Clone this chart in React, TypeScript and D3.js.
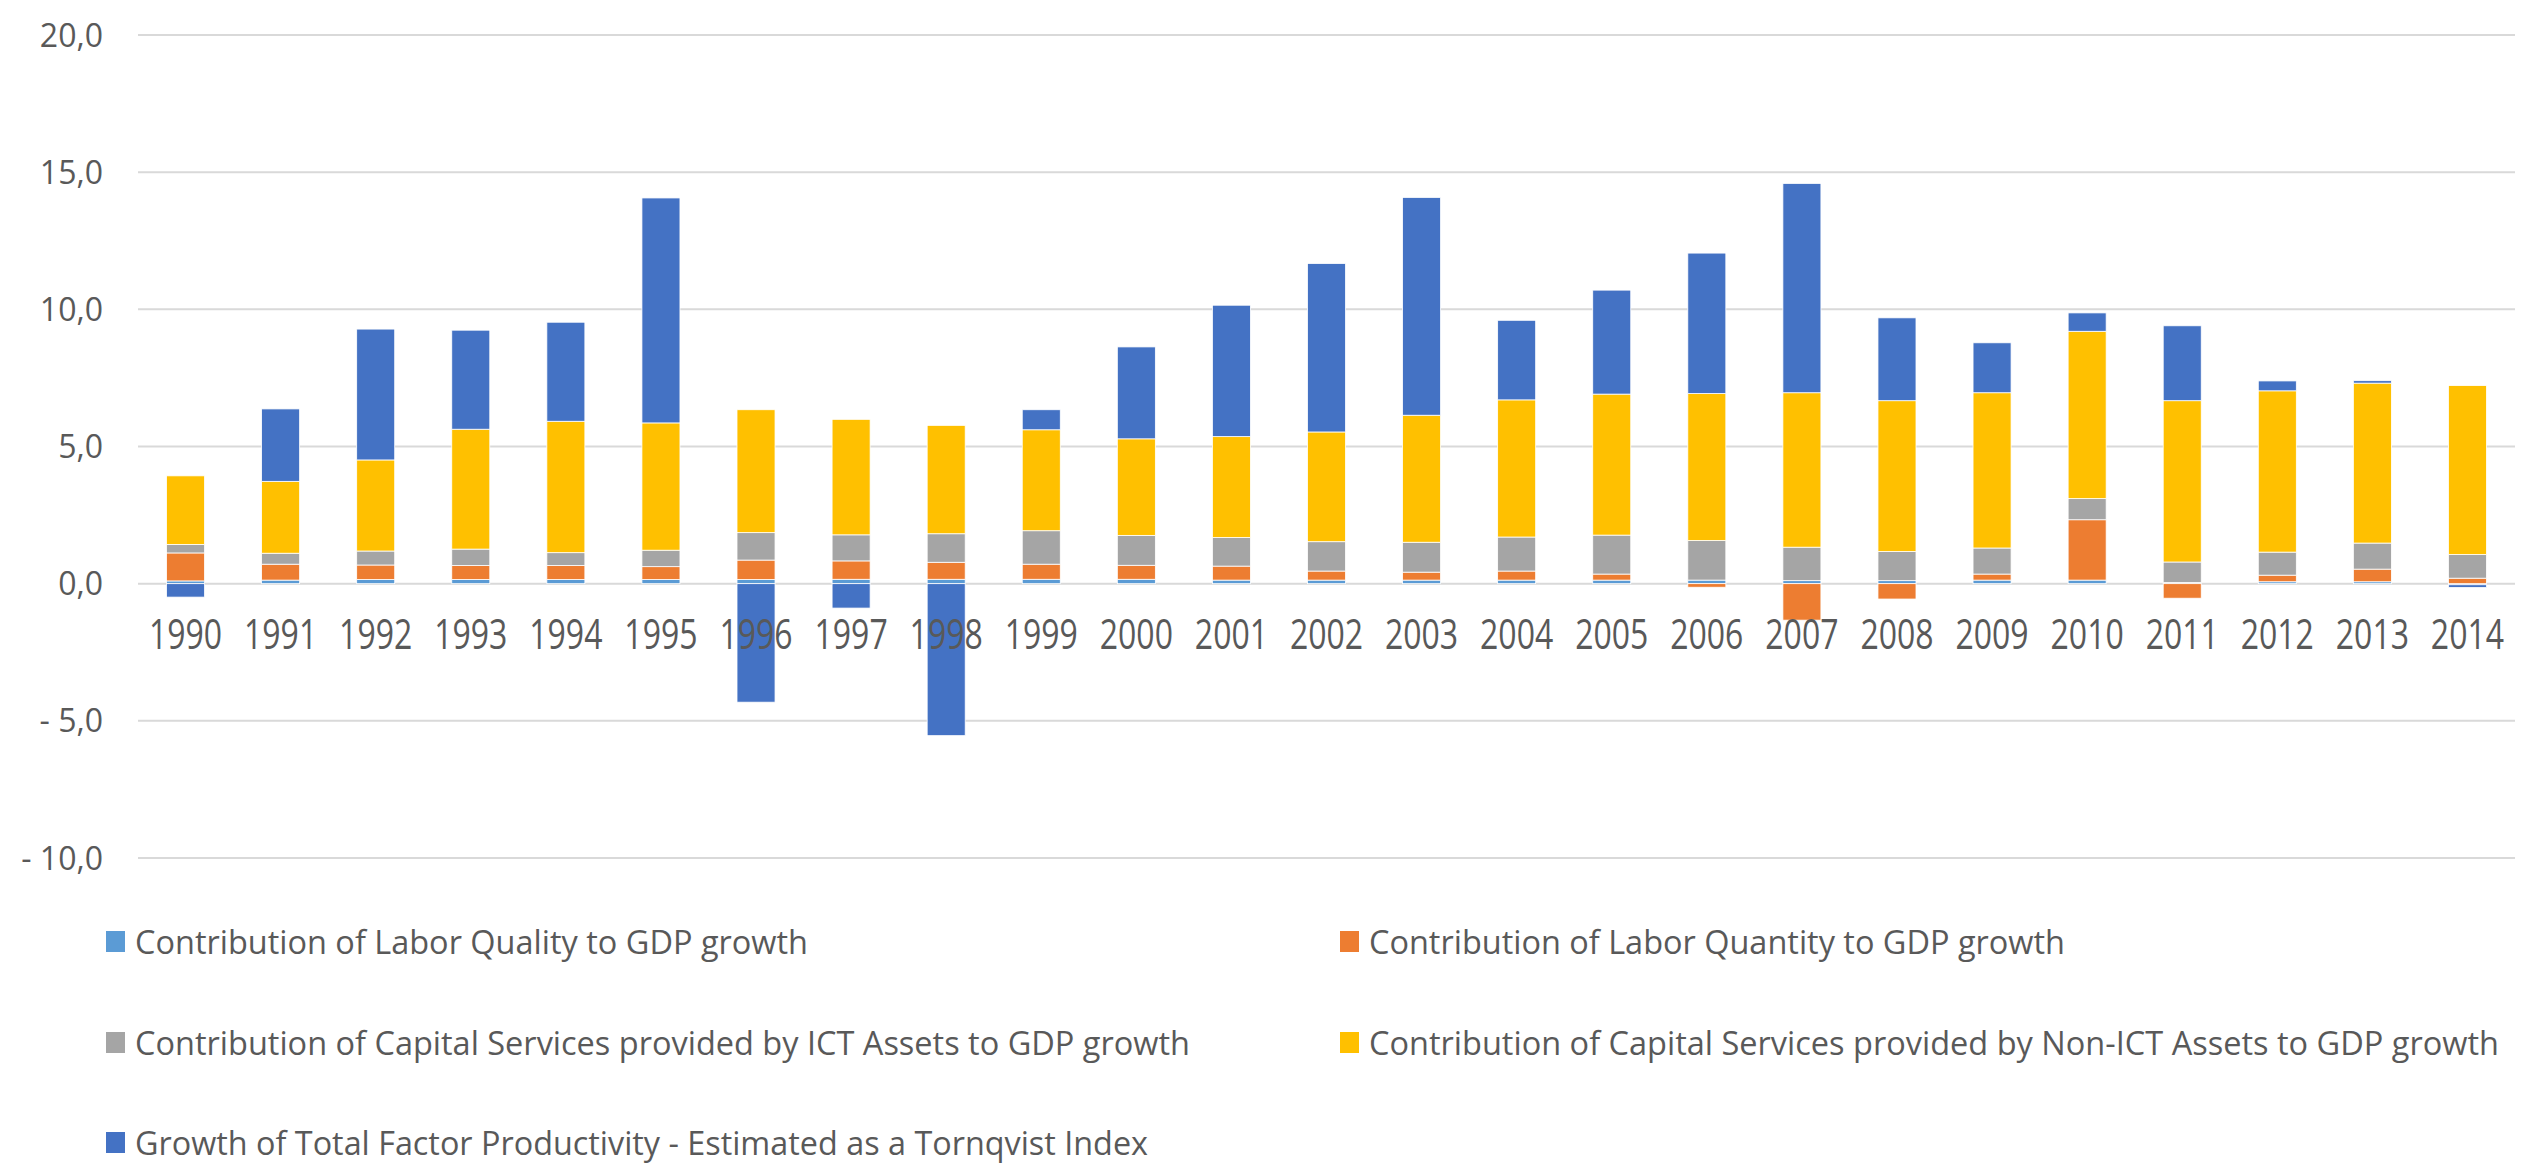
import React from "react";
import * as d3 from "d3";

const years = ["1990","1991","1992","1993","1994","1995","1996","1997","1998","1999","2000","2001","2002","2003","2004","2005","2006","2007","2008","2009","2010","2011","2012","2013","2014"];
const laborQuality = [0.1,0.13,0.15,0.15,0.15,0.15,0.15,0.16,0.16,0.16,0.16,0.13,0.13,0.13,0.13,0.13,0.13,0.11,0.11,0.13,0.13,0.04,0.07,0.07,-0.04];
const laborQuantity = [1.02,0.58,0.53,0.51,0.51,0.47,0.71,0.67,0.62,0.55,0.51,0.51,0.33,0.29,0.33,0.22,-0.13,-1.33,-0.56,0.22,2.2,-0.53,0.24,0.46,0.2];
const ictCapital = [0.31,0.4,0.51,0.6,0.47,0.6,1.0,0.95,1.04,1.22,1.09,1.04,1.07,1.09,1.24,1.42,1.44,1.22,1.06,0.95,0.77,0.75,0.84,0.95,0.86];
const nonIctCapital = [2.5,2.62,3.32,4.37,4.79,4.64,4.48,4.21,3.95,3.68,3.52,3.68,4.0,4.63,5.0,5.14,5.36,5.63,5.5,5.66,6.1,5.88,5.88,5.83,6.16];
const tfp = [-0.49,2.64,4.77,3.61,3.61,8.2,-4.32,-0.89,-5.54,0.73,3.35,4.79,6.14,7.94,2.9,3.79,5.12,7.63,3.02,1.82,0.67,2.73,0.36,0.09,-0.1];

const seriesNames = [
  "Contribution of Labor Quality to GDP growth",
  "Contribution of Labor Quantity to GDP growth",
  "Contribution of Capital Services provided by ICT Assets to GDP growth",
  "Contribution of Capital Services provided by Non-ICT Assets to GDP growth",
  "Growth of Total Factor Productivity - Estimated as a Tornqvist Index",
];
const seriesKeys = ["q", "n", "ict", "nonict", "tfp"];
const seriesColors = ["#5B9BD5", "#ED7D31", "#A5A5A5", "#FFC000", "#4472C4"];
const yTicks = [-10, -5, 0, 5, 10, 15, 20];
const yTickLabels = ["- 10,0", "- 5,0", "0,0", "5,0", "10,0", "15,0", "20,0"];

const W = 2521, H = 1167;
const plotLeft = 138, plotRight = 2515;
const yTop = 35, yBottom = 858;

export default function App() {
  const table = years.map((y, i) => ({
    year: y,
    q: laborQuality[i],
    n: laborQuantity[i],
    ict: ictCapital[i],
    nonict: nonIctCapital[i],
    tfp: tfp[i],
  }));
  const stacked = d3.stack<any>().keys(seriesKeys).offset(d3.stackOffsetDiverging)(table);
  const x = d3.scaleBand().domain(years).range([plotLeft, plotRight]).paddingInner(0.6).paddingOuter(0.3);
  const y = d3.scaleLinear().domain([-10, 20]).range([yBottom, yTop]);
  const font = "'Open Sans', 'Noto Sans', sans-serif";
  const textColor = "#595959";

  const legendPos = [
    { x: 106, y: 942 },
    { x: 1340, y: 942 },
    { x: 106, y: 1043 },
    { x: 1340, y: 1043 },
    { x: 106, y: 1143 },
  ];
  const legendWidths = [673, 696, 1055, 1130, 1013];

  return (
    <div style={{ position: "absolute", left: 0, top: 0 }}>
      <svg width={W} height={H} style={{ display: "block", background: "#fff" }}>
        {yTicks.map((t, i) => (
          <g key={t}>
            <line x1={plotLeft} x2={plotRight} y1={y(t)} y2={y(t)} stroke="#D9D9D9" strokeWidth={2} />
            <text x={103} y={y(t)} dy="0.36em" textAnchor="end" fontFamily={font} fontSize={32} fill={textColor}>
              {yTickLabels[i]}
            </text>
          </g>
        ))}
        {stacked.map((s, si) => (
          <g key={s.key} fill={seriesColors[si]}>
            {s.map((d, i) => {
              const y0 = y(d[0]);
              const y1 = y(d[1]);
              return (
                <rect
                  key={i}
                  x={x(years[i])}
                  width={x.bandwidth()}
                  y={Math.min(y0, y1)}
                  height={Math.abs(y0 - y1)}
                  stroke="#fff"
                  strokeWidth={0.8}
                />
              );
            })}
          </g>
        ))}
        {years.map((yr) => (
          <text
            key={yr}
            transform={`translate(${(x(yr) as number) + x.bandwidth() / 2},634) scale(1,1.33)`}
            dy="0.36em"
            textAnchor="middle"
            fontFamily={font}
            fontSize={32}
            fill={textColor}
          >
            {yr}
          </text>
        ))}
        {seriesNames.map((name, i) => (
          <g key={name}>
            <rect x={legendPos[i].x} y={legendPos[i].y - 11} width={19} height={21} fill={seriesColors[i]} />
            <text
              x={legendPos[i].x + 29}
              y={legendPos[i].y}
              dy="0.36em"
              fontFamily={font}
              fontSize={32}
              fill={textColor}
              textLength={legendWidths[i]}
              lengthAdjust="spacingAndGlyphs"
            >
              {name}
            </text>
          </g>
        ))}
      </svg>
    </div>
  );
}
